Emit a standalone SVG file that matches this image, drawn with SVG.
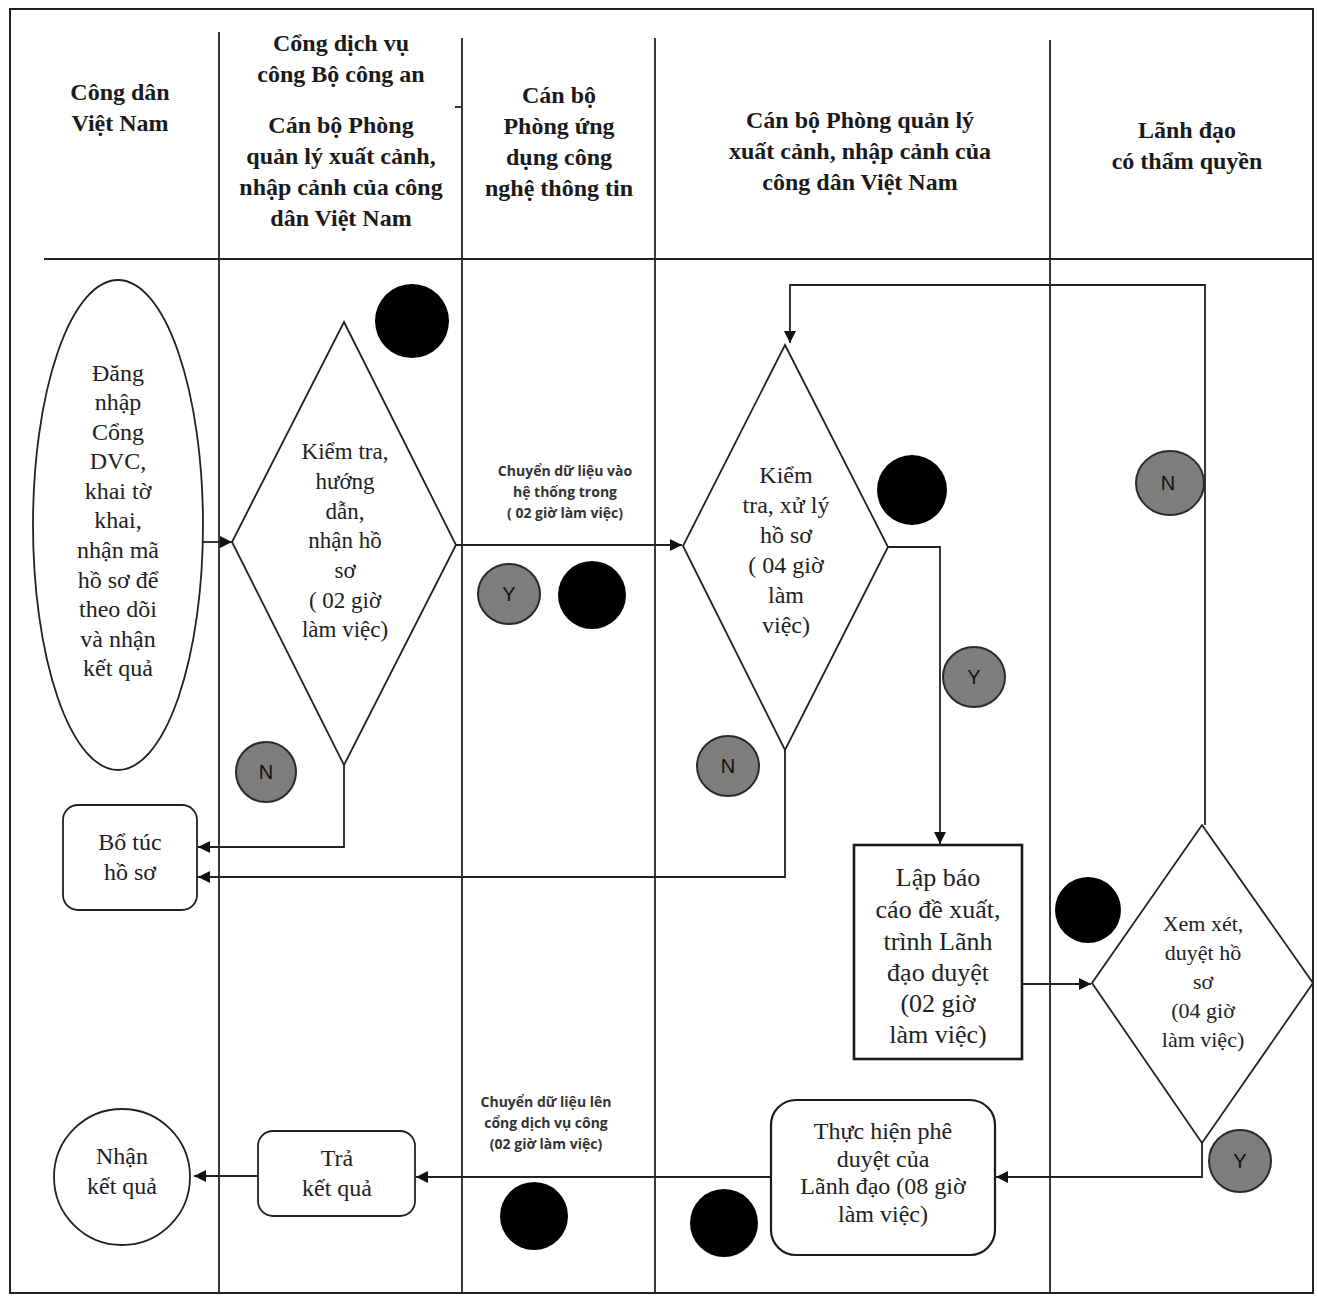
<svg xmlns="http://www.w3.org/2000/svg" width="1318" height="1298" viewBox="0 0 1318 1298">
  <style>
    .frame { fill: none; stroke: #222; stroke-width: 2; }
    .lane { stroke: #222; stroke-width: 1.8; }
    .hdr { font-family: "Liberation Serif", "Times New Roman", serif; font-weight: bold; font-size: 24px; fill: #1a1a1a; text-anchor: middle; }
    .txt { font-family: "Liberation Serif", "Times New Roman", serif; font-size: 24px; fill: #222; text-anchor: middle; }
    .note { font-family: "Open Sans", "Liberation Sans", sans-serif; font-weight: bold; font-size: 14px; fill: #333; text-anchor: middle; }
    .shape { fill: #fff; stroke: #222; stroke-width: 1.8; }
    .box { fill: #fff; stroke: #1a1a1a; stroke-width: 2.6; }
    .flow { fill: none; stroke: #222; stroke-width: 1.8; marker-end: url(#arrow); }
    .dot { fill: #000; }
    .tag { fill: #7d7d7d; stroke: #2a2a2a; stroke-width: 2; }
    .tagtxt { font-family: "Liberation Sans", Arial, sans-serif; font-size: 20px; fill: #111; text-anchor: middle; }
  </style>
  <defs>
    <marker id="arrow" viewBox="0 0 10 10" refX="10" refY="5" markerWidth="12" markerHeight="12" markerUnits="userSpaceOnUse" orient="auto">
      <path d="M0,0 L10,5 L0,10 z" fill="#111"/>
    </marker>
  </defs>

  <rect width="1318" height="1298" fill="#fff"/>

  <!-- swimlane frame -->
  <g id="lanes">
    <rect class="frame" x="10" y="9" width="1303" height="1284"/>
    <line class="lane" x1="44" y1="259" x2="1313" y2="259"/>
    <line class="lane" x1="219" y1="32" x2="219" y2="1293"/>
    <line class="lane" x1="462" y1="38" x2="462" y2="1293"/>
    <line class="lane" x1="455" y1="107" x2="462" y2="107"/>
    <line class="lane" x1="655" y1="38" x2="655" y2="1293"/>
    <line class="lane" x1="1050" y1="40" x2="1050" y2="1293"/>
  </g>

  <!-- lane headers -->
  <g id="headers">
    <text class="hdr" x="120" y="100">Công dân</text>
    <text class="hdr" x="120" y="131">Việt Nam</text>

    <text class="hdr" x="341" y="51">Cổng dịch vụ</text>
    <text class="hdr" x="341" y="82">công Bộ công an</text>
    <text class="hdr" x="341" y="133">Cán bộ Phòng</text>
    <text class="hdr" x="341" y="164">quản lý xuất cảnh,</text>
    <text class="hdr" x="341" y="195">nhập cảnh của công</text>
    <text class="hdr" x="341" y="226">dân Việt Nam</text>

    <text class="hdr" x="559" y="103">Cán bộ</text>
    <text class="hdr" x="559" y="134">Phòng ứng</text>
    <text class="hdr" x="559" y="165">dụng công</text>
    <text class="hdr" x="559" y="196">nghệ thông tin</text>

    <text class="hdr" x="860" y="128">Cán bộ Phòng quản lý</text>
    <text class="hdr" x="860" y="159">xuất cảnh, nhập cảnh của</text>
    <text class="hdr" x="860" y="190">công dân Việt Nam</text>

    <text class="hdr" x="1187" y="138">Lãnh đạo</text>
    <text class="hdr" x="1187" y="169">có thẩm quyền</text>
  </g>

  <!-- connectors -->
  <g id="connectors">
    <line class="flow" x1="203" y1="542" x2="232" y2="542"/>
    <polyline class="flow" points="344,765 344,847 198,847"/>
    <line class="flow" x1="456" y1="545" x2="682" y2="545"/>
    <polyline class="flow" points="785,750 785,877 198,877"/>
    <polyline class="flow" points="888,547 940,547 940,844"/>
    <polyline class="flow" points="1205,825 1205,285 790,285 790,343"/>
    <line class="flow" x1="1022" y1="984" x2="1091" y2="984"/>
    <polyline class="flow" points="1202,1143 1202,1177 996,1177"/>
    <line class="flow" x1="770" y1="1177" x2="416" y2="1177"/>
    <line class="flow" x1="258" y1="1176" x2="194" y2="1176"/>
    <text class="note" x="565" y="476">Chuyển dữ liệu vào</text>
    <text class="note" x="565" y="497">hệ thống trong</text>
    <text class="note" x="565" y="518">( 02  giờ làm việc)</text>
    <text class="note" x="546" y="1107">Chuyển dữ liệu lên</text>
    <text class="note" x="546" y="1128">cổng dịch vụ công</text>
    <text class="note" x="546" y="1149">(02  giờ làm việc)</text>
  </g>

  <!-- citizen logs in -->
  <g id="dang-nhap">
    <ellipse class="shape" cx="118" cy="525" rx="85" ry="245"/>
    <text class="txt" x="118" y="381">Đăng</text>
    <text class="txt" x="118" y="410">nhập</text>
    <text class="txt" x="118" y="440">Cổng</text>
    <text class="txt" x="118" y="469">DVC,</text>
    <text class="txt" x="118" y="499">khai tờ</text>
    <text class="txt" x="118" y="528">khai,</text>
    <text class="txt" x="118" y="558">nhận mã</text>
    <text class="txt" x="118" y="588">hồ sơ để</text>
    <text class="txt" x="118" y="617">theo dõi</text>
    <text class="txt" x="118" y="647">và nhận</text>
    <text class="txt" x="118" y="676">kết quả</text>
  </g>

  <!-- check & receive -->
  <g id="kiem-tra-1">
    <polygon class="shape" points="344,322 456,545 344,765 232,542"/>
    <text class="txt" x="345" y="459" style="font-size:23px">Kiểm tra,</text>
    <text class="txt" x="345" y="489" style="font-size:23px">hướng</text>
    <text class="txt" x="345" y="519" style="font-size:23px">dẫn,</text>
    <text class="txt" x="345" y="548" style="font-size:23px">nhận hồ</text>
    <text class="txt" x="345" y="578" style="font-size:23px">sơ</text>
    <text class="txt" x="345" y="608" style="font-size:23px">( 02 giờ</text>
    <text class="txt" x="345" y="637" style="font-size:23px">làm việc)</text>
    <circle class="dot" cx="412" cy="321" r="37"/>
    <circle class="tag" cx="266" cy="772" r="30"/>
    <text class="tagtxt" x="266" y="779">N</text>
  </g>

  <!-- supplement file -->
  <g id="bo-tuc">
    <rect class="shape" x="63" y="805" width="134" height="105" rx="15"/>
    <text class="txt" x="130" y="850">Bổ túc</text>
    <text class="txt" x="130" y="880">hồ sơ</text>
  </g>

  <!-- IT transfer tags -->
  <g id="chuyen-vao">
    <ellipse class="tag" cx="509" cy="594" rx="31" ry="30"/>
    <text class="tagtxt" x="509" y="601">Y</text>
    <circle class="dot" cx="592" cy="595" r="34"/>
  </g>

  <!-- process file -->
  <g id="kiem-tra-2">
    <polygon class="shape" points="785,345 888,547 785,750 683,546"/>
    <text class="txt" x="786" y="483">Kiểm</text>
    <text class="txt" x="786" y="513">tra, xử lý</text>
    <text class="txt" x="786" y="543">hồ sơ</text>
    <text class="txt" x="786" y="573">( 04  giờ</text>
    <text class="txt" x="786" y="603">làm</text>
    <text class="txt" x="786" y="633">việc)</text>
    <circle class="dot" cx="912" cy="490" r="35"/>
    <ellipse class="tag" cx="974" cy="677" rx="31" ry="30"/>
    <text class="tagtxt" x="974" y="684">Y</text>
    <ellipse class="tag" cx="728" cy="766" rx="31" ry="30"/>
    <text class="tagtxt" x="728" y="773">N</text>
  </g>

  <!-- report -->
  <g id="lap-bao-cao">
    <rect class="box" x="854" y="845" width="168" height="214"/>
    <text class="txt" x="938" y="886" style="font-size:26px">Lập báo</text>
    <text class="txt" x="938" y="918" style="font-size:26px">cáo đề xuất,</text>
    <text class="txt" x="938" y="950" style="font-size:26px">trình Lãnh</text>
    <text class="txt" x="938" y="981" style="font-size:26px">đạo duyệt</text>
    <text class="txt" x="938" y="1012" style="font-size:26px"> (02  giờ</text>
    <text class="txt" x="938" y="1043" style="font-size:26px">làm việc)</text>
  </g>

  <!-- leader review -->
  <g id="xem-xet">
    <polygon class="shape" points="1202,825 1313,983 1202,1143 1092,983"/>
    <text class="txt" x="1203" y="931" style="font-size:22px">Xem xét,</text>
    <text class="txt" x="1203" y="960" style="font-size:22px">duyệt hồ</text>
    <text class="txt" x="1203" y="989" style="font-size:22px">sơ</text>
    <text class="txt" x="1203" y="1018" style="font-size:22px">(04 giờ</text>
    <text class="txt" x="1203" y="1047" style="font-size:22px">làm việc)</text>
    <circle class="dot" cx="1088" cy="910" r="33"/>
    <ellipse class="tag" cx="1170" cy="483" rx="34" ry="32"/>
    <text class="tagtxt" x="1168" y="490">N</text>
    <ellipse class="tag" cx="1240" cy="1161" rx="31" ry="31"/>
    <text class="tagtxt" x="1240" y="1168">Y</text>
  </g>

  <!-- approval -->
  <g id="phe-duyet">
    <rect class="box" x="771" y="1100" width="224" height="155" rx="25" style="stroke-width:2.2"/>
    <text class="txt" x="883" y="1139">Thực hiện phê</text>
    <text class="txt" x="883" y="1167">duyệt của</text>
    <text class="txt" x="883" y="1194">Lãnh đạo (08 giờ</text>
    <text class="txt" x="883" y="1222">làm việc)</text>
    <circle class="dot" cx="724" cy="1223" r="34"/>
    <circle class="dot" cx="534" cy="1216" r="34"/>
  </g>

  <!-- return result -->
  <g id="tra-ket-qua">
    <rect class="shape" x="258" y="1131" width="157" height="85" rx="15"/>
    <text class="txt" x="337" y="1166">Trả</text>
    <text class="txt" x="337" y="1196">kết quả</text>
  </g>

  <!-- citizen receives result -->
  <g id="nhan-ket-qua">
    <circle class="shape" cx="122" cy="1177" r="68"/>
    <text class="txt" x="122" y="1164">Nhận</text>
    <text class="txt" x="122" y="1194">kết quả</text>
  </g>
</svg>
